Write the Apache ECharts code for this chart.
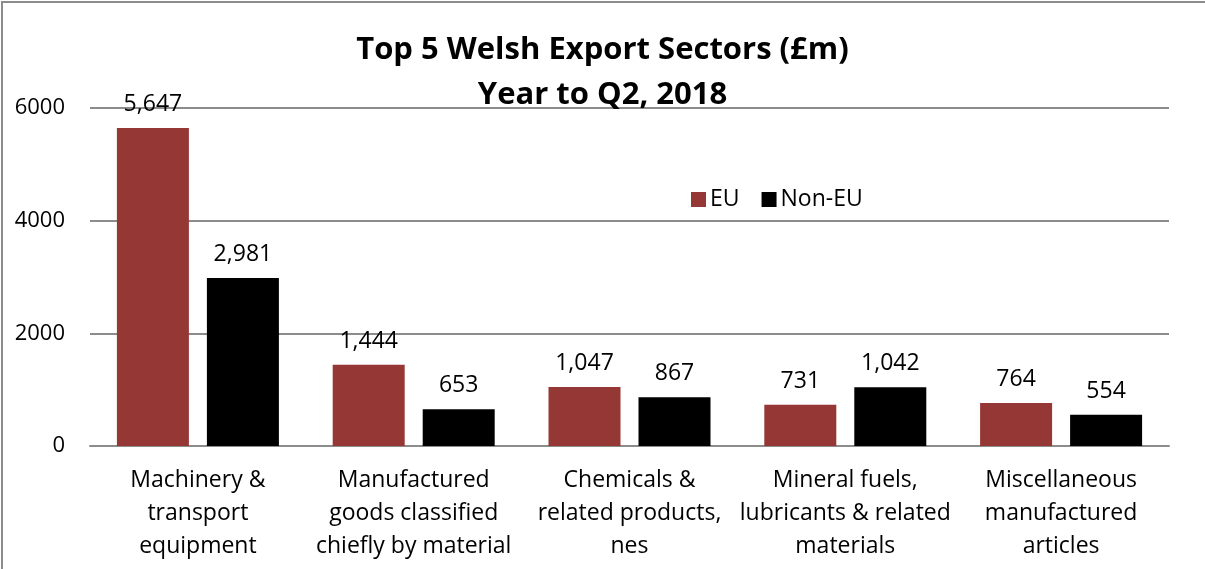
<!DOCTYPE html>
<html>
<head>
<meta charset="utf-8">
<script src="https://cdn.jsdelivr.net/npm/echarts@6/dist/echarts.min.js"></script>
<style>
  html, body { margin: 0; padding: 0; background: #fff; }
  #main { width: 1205px; height: 569px; }
</style>
</head>
<body>
<div id="main"></div>
<script>
var categories = [
  'Machinery &\ntransport\nequipment',
  'Manufactured\ngoods classified\nchiefly by material',
  'Chemicals &\nrelated products,\nnes',
  'Mineral fuels,\nlubricants & related\nmaterials',
  'Miscellaneous\nmanufactured\narticles'
];
var euValues = [5647, 1444, 1047, 731, 764];
var nonEuValues = [2981, 653, 867, 1042, 554];

var font = 'Open Sans, Noto Sans, sans-serif';

var chart = echarts.init(document.getElementById('main'));

function fmt(p) {
  return p.value.toLocaleString('en-US');
}

chart.setOption({
  animation: false,
  backgroundColor: '#fff',
  graphic: [{
    type: 'rect',
    shape: { x: 2, y: 2, width: 1260, height: 620 },
    style: { fill: 'none', stroke: '#8c8c8c', lineWidth: 2 },
    silent: true
  }],
  title: {
    text: 'Top 5 Welsh Export Sectors (£m)\nYear to Q2, 2018',
    left: 'center',
    top: 23,
    textStyle: {
      fontFamily: font,
      fontSize: 31,
      fontWeight: 'bold',
      color: '#000',
      lineHeight: 45
    }
  },
  legend: {
    left: 686,
    top: 183,
    itemWidth: 15,
    itemHeight: 15,
    itemGap: 22,
    icon: 'rect',
    textStyle: { fontFamily: font, fontSize: 23, color: '#000', padding: [0, 0, 0, -1] },
    data: ['EU', 'Non-EU']
  },
  grid: { left: 90, right: 36, top: 108, bottom: 123 },
  xAxis: {
    type: 'category',
    data: categories,
    axisLine: { lineStyle: { color: '#8c8c8c', width: 2 } },
    axisTick: { show: false },
    axisLabel: {
      interval: 0,
      margin: 18,
      fontFamily: font,
      fontSize: 23,
      color: '#000',
      lineHeight: 33,
      align: 'center'
    }
  },
  yAxis: {
    type: 'value',
    min: 0,
    max: 6000,
    interval: 2000,
    axisLine: { show: false },
    axisTick: { show: false },
    splitLine: { lineStyle: { color: '#8c8c8c', width: 2 } },
    axisLabel: {
      margin: 25,
      formatter: function (v) { return String(v); },
      fontFamily: font,
      fontSize: 22,
      color: '#000'
    }
  },
  series: [
    {
      name: 'EU',
      type: 'bar',
      data: euValues,
      barWidth: 72,
      barGap: '25%',
      itemStyle: { color: '#953735' },
      label: {
        show: true,
        position: 'top',
        distance: 12,
        formatter: fmt,
        fontFamily: font,
        fontSize: 23,
        color: '#000'
      }
    },
    {
      name: 'Non-EU',
      type: 'bar',
      data: nonEuValues,
      barWidth: 72,
      barGap: '25%',
      itemStyle: { color: '#000' },
      label: {
        show: true,
        position: 'top',
        distance: 12,
        formatter: fmt,
        fontFamily: font,
        fontSize: 23,
        color: '#000'
      }
    }
  ]
});
</script>
</body>
</html>
